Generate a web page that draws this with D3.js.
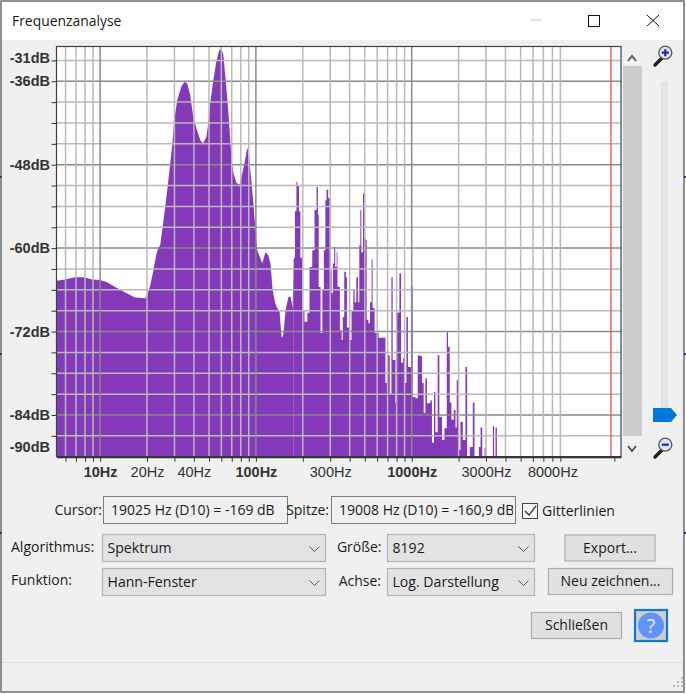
<!DOCTYPE html>
<html>
<head>
<meta charset="utf-8">
<script src="https://cdn.jsdelivr.net/npm/d3@7"></script>
<style>
  html, body { margin: 0; padding: 0; background: #fff; }
  svg { display: block; }
  text { font-family: "Open Sans", "Noto Sans", sans-serif; fill: #1a1a1a; }
</style>
</head>
<body>
<div id="chart"></div>
<script>
// smooth low end of the spectrum
const lowHz = [5.25, 5.96, 6.9, 7.89, 8.88, 10, 11.1, 12.5, 14.5, 16.8, 19.5, 20, 21, 21.9, 22.9, 23.6, 24.3, 25.4, 27, 28.2, 29, 29.9, 31.3, 33.2, 34.7, 36.2, 37.9, 39.6, 41.4, 44, 45.9, 48.1, 49.5, 51, 53.3, 55.7, 58.2, 60, 61.8, 63.7, 65.6, 67.6, 69.6, 71.6, 74.9, 78.4, 80.7, 84.4, 88.2, 90.8, 93.6, 96.4, 100, 102, 110, 115, 120, 124, 128, 133, 137, 142, 146, 150, 155, 162, 167, 172, 175];
const lowDb = [-64.7, -64.5, -64.2, -64.2, -64.5, -64.6, -64.9, -65.6, -66.4, -67.1, -67.2, -66.8, -65.3, -63.4, -61, -60, -59.6, -56.4, -51.6, -47.8, -45.2, -41.6, -38.7, -36.8, -36.1, -36.3, -38, -41.1, -42.7, -44.5, -44.9, -44, -42, -39.1, -35.8, -33.2, -31.5, -31.4, -32.2, -35.4, -38.7, -42.6, -46.9, -49.1, -50.6, -50.9, -49.9, -47.8, -45.5, -47.3, -50.5, -53.7, -58.1, -60.3, -62.2, -60.6, -61, -62.2, -66, -67.9, -68.6, -69.2, -72.9, -72.5, -68.9, -67, -67, -68.6, -61.4];

// harmonics, drawn as steps
const highHz = [175, 178, 182, 185, 189, 193, 198, 205, 214, 221, 230, 238, 245, 250, 253, 260, 267, 273, 279, 284, 291, 298, 306, 312, 318, 323, 330, 334, 346, 355, 361, 369, 378, 384, 397, 411, 422, 430, 441, 452, 461, 468, 475, 487, 494, 506, 514, 527, 540, 553, 561, 578, 614, 652, 678, 701, 723, 741, 755, 787, 805, 834, 855, 880, 902, 925, 946, 989, 1014, 1056, 1093, 1125, 1165, 1194, 1224, 1253, 1318, 1349, 1390, 1419, 1468, 1505, 1566, 1622, 1679, 1710, 1754, 1799, 1862, 1910, 1945, 1985, 2056, 2128, 2213, 2269, 2360, 2466, 2529, 2698, 2767, 2836, 2938, 2992, 3319, 3381, 3451, 3522, 22050];
const highDb = [-61.4, -54.7, -50.5, -51, -54.7, -61.4, -68.9, -70.6, -69.3, -62.7, -60.3, -54.5, -51.2, -55.2, -65.6, -72.2, -66, -60.3, -53.1, -51.6, -52.8, -63.2, -66.5, -62.2, -59.8, -62.7, -60.6, -65.6, -71.8, -73.2, -69.9, -63.4, -64.2, -71.4, -73.2, -68.9, -65.9, -67.8, -64.2, -67.8, -59.6, -54.5, -60.6, -52.1, -58.6, -58.8, -70.3, -70.8, -67.8, -61.6, -68.6, -72.2, -72.9, -72.9, -79.4, -75.4, -80.9, -64.2, -76.1, -82.3, -69.3, -63.6, -76.5, -75.8, -79.4, -69.9, -77.1, -65.5, -81.4, -81.6, -75.4, -75.5, -79.4, -83.7, -78.7, -82.3, -81.9, -88, -80.7, -86.5, -75.4, -84.3, -87.6, -85.9, -72.1, -74.2, -82.2, -84.7, -83.3, -85.8, -79, -89, -85, -87.6, -77.1, -90, -88.6, -82.2, -90, -88.6, -85.8, -90, -88.7, -90, -85.6, -90, -85.8, -90, -90];

const gridHz = [6, 7, 8, 9, 10, 20, 30, 40, 50, 60, 70, 80, 90, 100, 200, 300, 400, 500, 600, 700, 800, 900, 1000, 2000, 3000, 4000, 5000, 6000, 7000, 8000, 9000];
const majorHz = [10, 100, 1000];
const hzLabels = [10, 20, 40, 100, 300, 1000, 3000, 8000];
const extraHzTick = [20000];
const gridDb = [-33, -36, -39, -42, -45, -48, -51, -54, -57, -60, -63, -66, -69, -72, -75, -78, -81, -84, -87];
const majorDb = [-36, -48, -60, -72, -84];
const dbLabels = [-31, -36, -48, -60, -72, -84, -90];
const cursorHz = 19025;

const width = 686;
const height = 694;
const plotLeft = 56.5, plotRight = 621, plotTop = 46.5, plotBottom = 456.7;

const svg = d3.select("#chart").append("svg")
  .attr("width", width)
  .attr("height", height);

// window
svg.append("rect").attr("x", 1).attr("y", 1).attr("width", 683).attr("height", 691)
  .attr("fill", "#f0f0f0").attr("stroke", "#6e6e6e").attr("stroke-width", 1.5);
svg.append("rect").attr("x", 2).attr("y", 2).attr("width", 681).attr("height", 38).attr("fill", "#fff");
svg.append("text").attr("x", 12).attr("y", 26).attr("font-size", 13.9).text("Frequenzanalyse");
svg.append("line").attr("x1", 530).attr("x2", 542).attr("y1", 20).attr("y2", 20).attr("stroke", "#c4c4c4");
svg.append("rect").attr("x", 588.5).attr("y", 15.5).attr("width", 11).attr("height", 11)
  .attr("fill", "none").attr("stroke", "#111");
svg.append("path").attr("d", "M647,15L659,26M659,15L647,26").attr("stroke", "#111").attr("fill", "none");
[177, 354, 533].forEach(y => {
  svg.append("rect").attr("x", 0).attr("y", y - 1).attr("width", 1.5).attr("height", 2).attr("fill", "#2a2a80");
  svg.append("rect").attr("x", 684).attr("y", y - 1).attr("width", 2).attr("height", 2).attr("fill", "#2a2a80");
});

// plot
const x = d3.scaleLog().domain([5.25, 22050]).range([plotLeft, plotRight]);
const y = d3.scaleLinear().domain([-31, -90]).range([plotTop, plotBottom]);

svg.append("rect").attr("x", plotLeft).attr("y", plotTop).attr("width", plotRight - plotLeft).attr("height", plotBottom - plotTop).attr("fill", "#fff");

const lowArea = d3.area()
  .x((d, i) => x(lowHz[i]))
  .y0(plotBottom)
  .y1(d => y(d));
svg.append("path").datum(lowDb).attr("d", lowArea).attr("fill", "#8439bb");

const highArea = d3.area()
  .curve(d3.curveStepAfter)
  .x((d, i) => x(highHz[i]))
  .y0(plotBottom)
  .y1(d => y(d));
svg.append("path").datum(highDb).attr("d", highArea).attr("fill", "#8439bb");

// grid sits on top of the spectrum
svg.append("g").selectAll("line").data(gridDb).join("line")
  .attr("x1", plotLeft).attr("x2", plotRight)
  .attr("y1", d => y(d)).attr("y2", d => y(d))
  .attr("stroke", d => majorDb.includes(d) ? "#8a8a8a" : "#b9b9b9")
  .attr("stroke-width", 1.5);
svg.append("g").selectAll("line").data(gridHz).join("line")
  .attr("x1", d => x(d)).attr("x2", d => x(d))
  .attr("y1", plotTop).attr("y2", plotBottom)
  .attr("stroke", d => majorHz.includes(d) ? "#8a8a8a" : "#b9b9b9")
  .attr("stroke-width", 1.5);
svg.append("line")
  .attr("x1", x(cursorHz)).attr("x2", x(cursorHz))
  .attr("y1", plotTop).attr("y2", plotBottom)
  .attr("stroke", "#e26a6a").attr("stroke-width", 1.5);

svg.append("rect").attr("x", plotLeft).attr("y", plotTop).attr("width", plotRight - plotLeft).attr("height", plotBottom - plotTop)
  .attr("fill", "none").attr("stroke", "#404040").attr("stroke-width", 1.2);

const xAxis = svg.append("g")
  .attr("transform", `translate(0,${plotBottom})`)
  .call(d3.axisBottom(x)
    .tickValues(gridHz.concat(extraHzTick))
    .tickSize(5)
    .tickSizeOuter(0)
    .tickFormat(d => hzLabels.includes(d) ? d + "Hz" : ""));
xAxis.select(".domain").attr("stroke", "#333").attr("stroke-width", 2);
xAxis.selectAll(".tick line").attr("stroke", "#333");
xAxis.selectAll("text")
  .attr("y", 10)
  .attr("font-size", 14.5)
  .style("font-family", '"Liberation Sans", Arial, sans-serif')
  .attr("font-weight", d => majorHz.includes(d) ? "bold" : "normal")
  .style("fill", "#333");

const yAxis = svg.append("g")
  .attr("transform", `translate(${plotLeft},0)`)
  .call(d3.axisLeft(y)
    .tickValues(gridDb)
    .tickSize(5)
    .tickSizeOuter(0)
    .tickFormat(""));
yAxis.select(".domain").remove();
yAxis.selectAll(".tick line").attr("stroke", "#333");

svg.append("g").selectAll("text").data(dbLabels).join("text")
  .attr("x", 50)
  .attr("y", d => d === -31 ? y(d) + 11 : d === -90 ? y(d) - 10 : y(d))
  .attr("dy", "0.35em")
  .attr("text-anchor", "end")
  .attr("font-size", 14.5)
  .attr("font-weight", "bold")
  .style("font-family", '"Liberation Sans", Arial, sans-serif')
  .style("fill", "#333")
  .text(d => d + "dB");

// scrollbar and zoom slider
const chevron = (cx, cy, up) => svg.append("path")
  .attr("d", up ? `M${cx - 4},${cy + 3}L${cx},${cy - 2}L${cx + 4},${cy + 3}` : `M${cx - 4},${cy - 2}L${cx},${cy + 3}L${cx + 4},${cy - 2}`)
  .attr("fill", "none").attr("stroke", "#555").attr("stroke-width", 1.8);
chevron(632, 58, true);
chevron(632, 448, false);
svg.append("rect").attr("x", 623).attr("y", 66).attr("width", 19).attr("height", 370).attr("fill", "#cdcdcd");
svg.append("rect").attr("x", 662).attr("y", 83).attr("width", 5).attr("height", 325)
  .attr("fill", "#e6e6e6").attr("stroke", "#d6d6d6");
svg.append("path").attr("d", "M653,408H671L677,415L671,422H653Z").attr("fill", "#0078d7");

const magnifier = (cy, sign) => {
  const g = svg.append("g").attr("transform", `translate(663,${cy})`);
  g.append("line").attr("x1", -8).attr("y1", 10).attr("x2", -1).attr("y2", 3)
    .attr("stroke", "#222").attr("stroke-width", 3.4).attr("stroke-linecap", "round");
  g.append("circle").attr("cx", 2.3).attr("cy", -2.3).attr("r", 6.5).attr("fill", "#dfe4f2").attr("stroke", "#555").attr("stroke-width", 1.3);
  g.append("path").attr("d", sign > 0 ? "M-1.2,-2.3H5.8M2.3,-5.8V1.2" : "M-1.2,-2.3H5.8")
    .attr("stroke", "#2222b0").attr("stroke-width", 2.2);
};
magnifier(55, 1);
magnifier(447, -1);

// controls
const label = (tx, ty, s, anchor) => svg.append("text")
  .attr("x", tx).attr("y", ty).attr("dy", "0.35em")
  .attr("text-anchor", anchor || "start")
  .attr("font-size", 14).text(s);

const textBox = (bx, id, s) => {
  svg.append("clipPath").attr("id", id).append("rect").attr("x", bx).attr("y", 496).attr("width", 181.5).attr("height", 28);
  svg.append("rect").attr("x", bx).attr("y", 496.5).attr("width", 184).attr("height", 27)
    .attr("fill", "#f0f0f0").attr("stroke", "#7d7d7d");
  svg.append("text").attr("clip-path", `url(#${id})`)
    .attr("x", bx + 7.5).attr("y", 510).attr("dy", "0.35em").attr("font-size", 14).text(s);
};

const combo = (bx, by, w, s) => {
  svg.append("rect").attr("x", bx).attr("y", by).attr("width", w).attr("height", 27)
    .attr("fill", "#e3e3e3").attr("stroke", "#b5b5b5").attr("stroke-width", 1.2);
  svg.append("text").attr("x", bx + 5).attr("y", by + 14).attr("dy", "0.35em").attr("font-size", 14.1).text(s);
  svg.append("path").attr("d", `M${bx + w - 16},${by + 12}L${bx + w - 11},${by + 17}L${bx + w - 6},${by + 12}`)
    .attr("fill", "none").attr("stroke", "#555");
};

const button = (bx, by, w, h, s) => {
  svg.append("rect").attr("x", bx).attr("y", by).attr("width", w).attr("height", h)
    .attr("fill", "#e1e1e1").attr("stroke", "#adadad").attr("stroke-width", 1.2);
  svg.append("text").attr("x", bx + w / 2).attr("y", by + h / 2).attr("dy", "0.35em")
    .attr("text-anchor", "middle").attr("font-size", 14).text(s);
};

label(102, 510, "Cursor:", "end");
textBox(103.5, "cursorClip", "19025 Hz (D10) = -169 dB");
label(329, 510, "Spitze:", "end");
textBox(331.5, "peakClip", "19008 Hz (D10) = -160,9 dB");

svg.append("rect").attr("x", 522.5).attr("y", 503.5).attr("width", 15).attr("height", 15)
  .attr("fill", "#f4f4f4").attr("stroke", "#444");
svg.append("path").attr("d", "M525,511L529,515L536,506").attr("fill", "none").attr("stroke", "#333").attr("stroke-width", 1.3);
label(542, 511, "Gitterlinien");

label(11, 547, "Algorithmus:");
combo(102.5, 534.5, 223, "Spektrum");
label(11, 580, "Funktion:");
combo(102.5, 568.5, 223, "Hann-Fenster");
label(381.5, 547, "Größe:", "end");
combo(387.5, 534.5, 147, "8192");
label(381, 581, "Achse:", "end");
combo(387.5, 568.5, 147, "Log. Darstellung");

button(565, 535, 90, 26, "Export...");
button(548.5, 568.5, 124, 26, "Neu zeichnen...");
button(531.5, 612.5, 90, 26, "Schließen");

svg.append("rect").attr("x", 635).attr("y", 610).attr("width", 32).attr("height", 31)
  .attr("fill", "#cfcfcf").attr("stroke", "#0f78d4").attr("stroke-width", 2.2);
svg.append("circle").attr("cx", 651).attr("cy", 625.5).attr("r", 13).attr("fill", "#5f95fb");
svg.append("text").attr("x", 651).attr("y", 625.5).attr("dy", "0.35em").attr("text-anchor", "middle")
  .attr("font-size", 20).style("fill", "#e8eefc").text("?");

svg.append("line").attr("x1", 2).attr("x2", 683).attr("y1", 662.5).attr("y2", 662.5).attr("stroke", "#e0e0e0");
svg.append("g").selectAll("rect").data([[681, 677], [677, 681], [681, 681], [673, 685], [677, 685], [681, 685]]).join("rect")
  .attr("x", d => d[0]).attr("y", d => d[1]).attr("width", 2).attr("height", 2).attr("fill", "#bdbdbd");
</script>
</body>
</html>
